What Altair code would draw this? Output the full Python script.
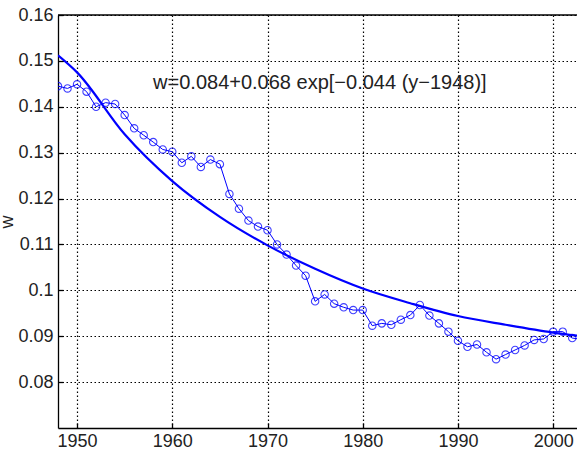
import altair as alt
import pandas as pd

years = list(range(1948, 2004))
w_values = [
    0.1445, 0.1440, 0.1449, 0.1433, 0.1400, 0.1409, 0.1406, 0.1382, 0.1353, 0.1338,
    0.1323, 0.1307, 0.1302, 0.1278, 0.1292, 0.1269, 0.1285, 0.1275, 0.1210, 0.1178,
    0.1152, 0.1139, 0.1131, 0.1100, 0.1078, 0.1054, 0.1032, 0.0976, 0.0991, 0.0971,
    0.0963, 0.0957, 0.0957, 0.0923, 0.0928, 0.0925, 0.0936, 0.0946, 0.0968, 0.0945,
    0.0928, 0.0910, 0.0890, 0.0877, 0.0882, 0.0865, 0.0850, 0.0860, 0.0870, 0.0880,
    0.0892, 0.0894, 0.0910, 0.0910, 0.0896, 0.0893,
]

fit_years = [1948, 1950, 1955, 1960, 1965, 1970, 1975, 1980, 1985, 1990, 1995, 2000, 2003]
fit_values = [0.1512, 0.1475, 0.1340, 0.1238, 0.1160, 0.1098, 0.1047, 0.1004, 0.0972,
              0.0944, 0.0925, 0.0908, 0.0900]

x_ticks = [1950, 1960, 1970, 1980, 1990, 2000]
y_ticks = [0.08, 0.09, 0.10, 0.11, 0.12, 0.13, 0.14, 0.15, 0.16]
annotation = "w=0.084+0.068 exp[\u22120.044 (y\u22121948)]"

data = pd.DataFrame({"year": years, "w": w_values})
fit = pd.DataFrame({"year": fit_years, "w": fit_values})
one = pd.DataFrame({"t": [annotation]})

W, H = 519, 413
FONT = "Liberation Sans"
BLUE = "#0000ff"
DASH = [1.5, 2.5]

xscale = alt.Scale(domain=[1948, 2002.5], nice=False, zero=False)
yscale = alt.Scale(domain=[0.07, 0.16], nice=False, zero=False)

x_axis = alt.Axis(values=x_ticks, format="d", grid=True, gridColor="black",
                  gridDash=DASH, gridWidth=1.2, gridOpacity=1,
                  domain=True, domainColor="black", domainWidth=1.3,
                  ticks=False, labelFontSize=18, labelFont=FONT, labelColor="#222",
                  labelPadding=4, title=None, labelFlush=False)
y_axis = alt.Axis(values=y_ticks, format="~g", grid=True, gridColor="black",
                  gridDash=DASH, gridWidth=1.2, gridOpacity=1,
                  domain=True, domainColor="black", domainWidth=1.3,
                  ticks=False, labelFontSize=18, labelFont=FONT, labelColor="#222",
                  labelPadding=5, title="w", titleFont=FONT, titleFontSize=18,
                  titleFontWeight="normal", titleColor="#222", titlePadding=1,
                  labelFlush=False)

base = alt.Chart(data)

line = base.mark_line(color=BLUE, strokeWidth=1, clip=True).encode(
    x=alt.X("year:Q", scale=xscale, axis=x_axis),
    y=alt.Y("w:Q", scale=yscale, axis=y_axis),
)
pts = base.mark_point(color=BLUE, size=55, strokeWidth=1.1, filled=False,
                      opacity=0.75, clip=True).encode(
    x=alt.X("year:Q", scale=xscale, axis=None),
    y=alt.Y("w:Q", scale=yscale, axis=None),
)
fitline = alt.Chart(fit).mark_line(color=BLUE, strokeWidth=2.2, interpolate="monotone",
                                   clip=True).encode(
    x=alt.X("year:Q", scale=xscale, axis=None),
    y=alt.Y("w:Q", scale=yscale, axis=None),
)
top_border = alt.Chart(one).mark_rule(color="black", strokeWidth=1.3).encode(
    y=alt.YDatum(0.16, scale=yscale, axis=None)
)
text = alt.Chart(one).mark_text(font=FONT, fontSize=20, color="#222",
                                align="center", baseline="middle").encode(
    text="t:N",
    x=alt.XDatum(1975.5, scale=xscale, axis=None),
    y=alt.YDatum(0.1452, scale=yscale, axis=None),
)
inner_ticks = base.mark_point(opacity=0).encode(
    x=alt.X("year:Q", scale=xscale,
            axis=alt.Axis(orient="top", offset=-H, values=x_ticks, labels=False,
                          domain=False, grid=False, ticks=True, tickSize=5,
                          tickColor="black", tickWidth=1.3, title=None)),
    y=alt.Y("w:Q", scale=yscale,
            axis=alt.Axis(orient="right", offset=-W, values=y_ticks, labels=False,
                          domain=False, grid=False, ticks=True, tickSize=5,
                          tickColor="black", tickWidth=1.3, title=None)),
)

chart = alt.layer(line, inner_ticks, fitline, pts, top_border, text).resolve_axis(
    x="independent", y="independent"
).properties(
    width=W, height=H,
    autosize=alt.AutoSizeParams(type="none"),
    padding={"left": 58, "top": 15, "right": 0, "bottom": 23},
    background="white",
).configure_view(stroke=None)

chart.save("out.html", embed_options={"renderer": "svg", "actions": False})
